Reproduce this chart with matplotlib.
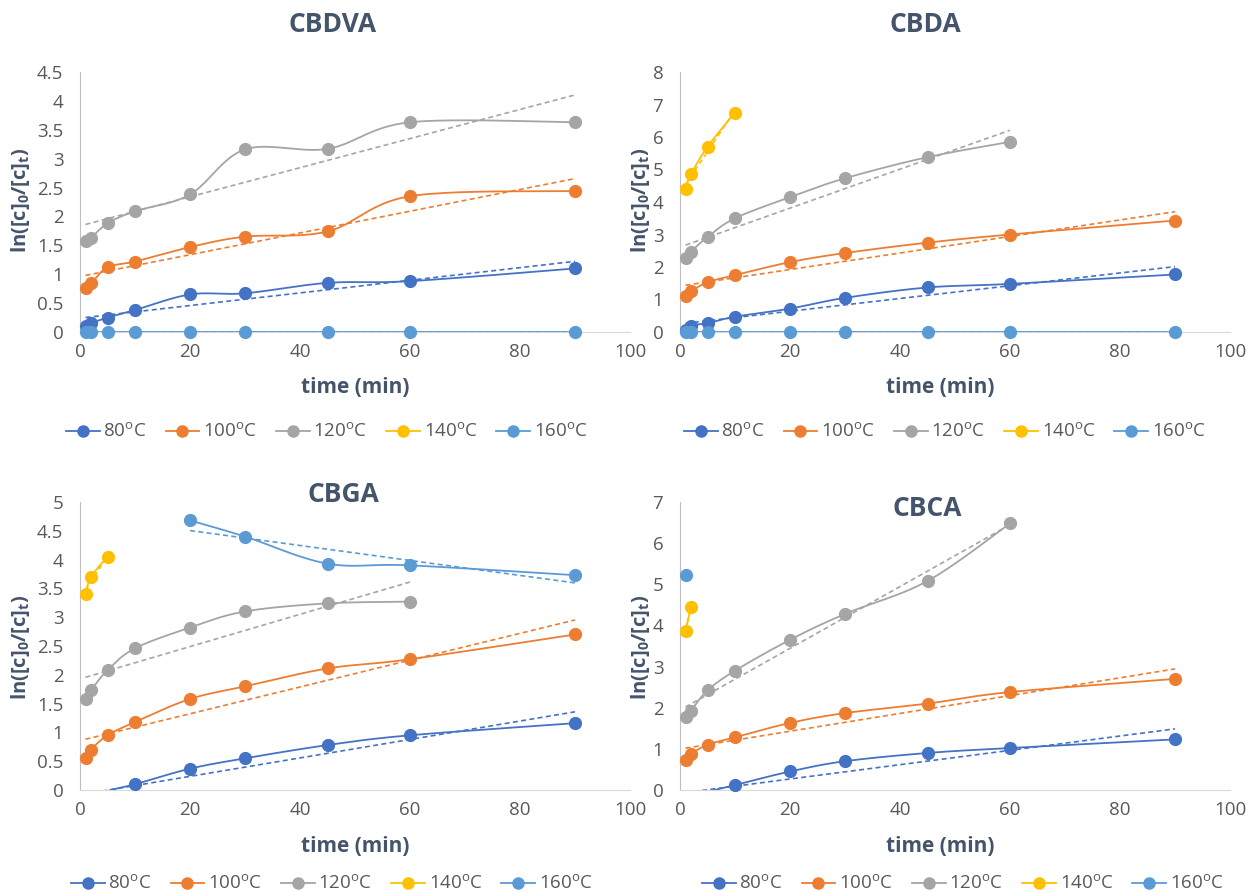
#!python3
# kinetics plots - ln([c]0/[c]t) vs time for four acids at five temperatures

import numpy as np
import matplotlib
matplotlib.use("Agg")
import matplotlib.pyplot as plt
from matplotlib.lines import Line2D

plt.rcParams['font.family'] = ['Open Sans', 'DejaVu Sans']
plt.rcParams['mathtext.fontset'] = 'custom'
plt.rcParams['mathtext.rm'] = 'Open Sans'
plt.rcParams['mathtext.bf'] = 'Open Sans:bold'

# data
temps = ["80", "100", "120", "140", "160"]
colors = ["#4472C4", "#ED7D31", "#A5A5A5", "#FFC000", "#5B9BD5"]
times = [1, 2, 5, 10, 20, 30, 45, 60, 90]

cbdva_80 = [0.10, 0.15, 0.25, 0.38, 0.65, 0.67, 0.85, 0.88, 1.10]
cbdva_100 = [0.77, 0.84, 1.12, 1.22, 1.47, 1.65, 1.74, 2.35, 2.44]
cbdva_120 = [1.58, 1.63, 1.88, 2.09, 2.38, 3.16, 3.17, 3.63, 3.63]
cbdva_160 = [0, 0, 0, 0, 0, 0, 0, 0, 0]

cbda_80 = [0.05, 0.20, 0.27, 0.47, 0.72, 1.05, 1.37, 1.48, 1.77]
cbda_100 = [1.12, 1.25, 1.53, 1.75, 2.15, 2.43, 2.75, 3.00, 3.43]
cbda_120 = [2.27, 2.47, 2.92, 3.50, 4.15, 4.73, 5.38, 5.85]
cbda_140 = [4.40, 4.85, 5.70, 6.75]
cbda_160 = [0, 0, 0, 0, 0, 0, 0, 0, 0]

cbga_80 = [-0.25, -0.18, -0.02, 0.10, 0.37, 0.55, 0.78, 0.95, 1.16]
cbga_100 = [0.55, 0.70, 0.95, 1.18, 1.58, 1.80, 2.11, 2.27, 2.70]
cbga_120 = [1.58, 1.73, 2.08, 2.46, 2.82, 3.10, 3.24, 3.27]
cbga_140 = [3.40, 3.70, 4.05]
cbga_160_t = [20, 30, 45, 60, 90]
cbga_160 = [4.68, 4.40, 3.93, 3.90, 3.73]

cbca_80 = [-0.30, -0.22, -0.05, 0.12, 0.45, 0.70, 0.90, 1.02, 1.23]
cbca_100 = [0.72, 0.87, 1.10, 1.28, 1.63, 1.87, 2.10, 2.38, 2.70]
cbca_120 = [1.78, 1.93, 2.42, 2.90, 3.65, 4.28, 5.08, 6.48]
cbca_140 = [3.87, 4.45]
cbca_160 = [5.22]


def smooth(x, y, n=24):
    # excel-like smoothed line (catmull-rom as bezier)
    pts = np.column_stack([x, y]).astype(float)
    if len(pts) < 3:
        return pts[:, 0], pts[:, 1]
    out = [pts[0]]
    for i in range(len(pts) - 1):
        p0 = pts[max(i - 1, 0)]
        p1 = pts[i]
        p2 = pts[i + 1]
        p3 = pts[min(i + 2, len(pts) - 1)]
        c1 = p1 + (p2 - p0) / 6
        c2 = p2 - (p3 - p1) / 6
        t = np.linspace(0, 1, n)[1:, None]
        seg = ((1 - t) ** 3 * p1 + 3 * (1 - t) ** 2 * t * c1
               + 3 * (1 - t) * t ** 2 * c2 + t ** 3 * p2)
        out.extend(seg)
    out = np.array(out)
    return out[:, 0], out[:, 1]


def draw_panel(ax, series, ymax, ystep):
    for (x, y), col in zip(series, colors):
        if x is None:
            continue
        x = np.array(x, dtype=float)
        y = np.array(y, dtype=float)
        sx, sy = smooth(x, y)
        ax.plot(sx, sy, color=col, lw=1.3, zorder=3)
        if len(x) > 1:
            k, b = np.polyfit(x, y, 1)
            tx = np.array([x.min(), x.max()])
            ax.plot(tx, k * tx + b, color=col, lw=1.2, ls=(0, (3, 2)), zorder=2)
        ok = (y >= 0) & (y <= ymax)
        ax.plot(x[ok], y[ok], 'o', color=col, ms=8.5, clip_on=False, zorder=4)
    ax.set_xlim(0, 100)
    ax.set_ylim(0, ymax)
    ax.set_xticks(np.arange(0, 101, 20))
    ax.set_yticks(np.arange(0, ymax + 0.001, ystep))
    ax.set_yticklabels(["%g" % v for v in np.arange(0, ymax + 0.001, ystep)])
    for s in ["top", "right"]:
        ax.spines[s].set_visible(False)
    ax.spines["left"].set_color("#BFBFBF")
    ax.spines["bottom"].set_color("#D9D9D9")
    ax.tick_params(axis="y", length=0, labelsize=13.5, colors="#595959", pad=12)
    ax.tick_params(axis="x", length=0, labelsize=13.5, colors="#595959", pad=8)
    ax.patch.set_alpha(0)


fig = plt.figure(figsize=(12.5, 8.92), dpi=100)

W, H = 1250, 892
def box(x0, x1, ytop, ybot):
    return [x0 / W, 1 - ybot / H, (x1 - x0) / W, (ybot - ytop) / H]

ax1 = fig.add_axes(box(80, 630, 72, 332))
ax2 = fig.add_axes(box(680, 1230, 72, 332))
ax3 = fig.add_axes(box(80, 630, 502, 790))
ax4 = fig.add_axes(box(680, 1230, 502, 790))

draw_panel(ax1, [(times, cbdva_80), (times, cbdva_100), (times, cbdva_120),
                 (None, None), (times, cbdva_160)], 4.5, 0.5)
draw_panel(ax2, [(times, cbda_80), (times, cbda_100), (times[:8], cbda_120),
                 (times[:4], cbda_140), (times, cbda_160)], 8, 1)
draw_panel(ax3, [(times, cbga_80), (times, cbga_100), (times[:8], cbga_120),
                 (times[:3], cbga_140), (cbga_160_t, cbga_160)], 5, 0.5)
draw_panel(ax4, [(times, cbca_80), (times, cbca_100), (times[:8], cbca_120),
                 (times[:2], cbca_140), (times[:1], cbca_160)], 7, 1)

title_col = "#44546A"
fig.text(333 / W, 1 - 25 / H, "CBDVA", ha="center", va="center",
         fontsize=19, fontweight="bold", color=title_col)
fig.text(925 / W, 1 - 25 / H, "CBDA", ha="center", va="center",
         fontsize=19, fontweight="bold", color=title_col)
fig.text(343 / W, 1 - 495 / H, "CBGA", ha="center", va="center",
         fontsize=19, fontweight="bold", color=title_col)
fig.text(927 / W, 1 - 508 / H, "CBCA", ha="center", va="center",
         fontsize=19, fontweight="bold", color=title_col)

ylab = r"ln([c]$_\mathbf{0}$/[c]$_\mathbf{t}$)"
for xx, yy in [(21, 200), (640, 200), (21, 647), (640, 647)]:
    fig.text(xx / W, 1 - yy / H, ylab, rotation=90, ha="center", va="center",
             fontsize=14.5, fontweight="bold", color=title_col)
for xx, yy in [(355, 388), (940, 388), (355, 847), (940, 847)]:
    fig.text(xx / W, 1 - yy / H, "time (min)", ha="center", va="center",
             fontsize=15, fontweight="bold", color=title_col)

handles = [Line2D([], [], color=c, lw=1.3, marker='o', ms=8) for c in colors]
labels = [t + r"$^\mathrm{o}$C" for t in temps]
for xx, yy in [(327, 432), (945, 432), (332, 884), (963, 884)]:
    fig.legend(handles, labels, loc="center", ncol=5, frameon=False,
               bbox_to_anchor=(xx / W, 1 - yy / H), fontsize=13.5,
               handlelength=1.8, columnspacing=1.0, handletextpad=0.2,
               labelcolor="#595959")

fig.savefig("out.png", dpi=100)
